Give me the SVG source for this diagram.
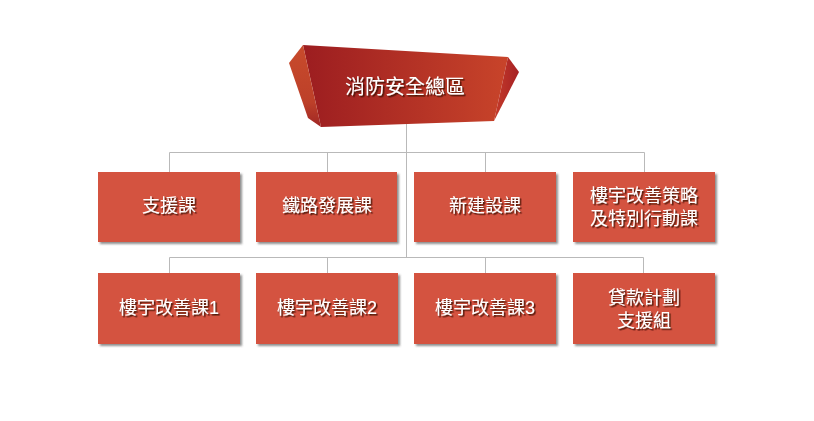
<svg xmlns="http://www.w3.org/2000/svg" width="814" height="421" viewBox="0 0 814 421">
<defs>
<linearGradient id="gMain" x1="0" y1="0" x2="1" y2="0">
<stop offset="0" stop-color="#9c1d20"/>
<stop offset="1" stop-color="#c8442a"/>
</linearGradient>
<linearGradient id="gLeft" x1="0" y1="0" x2="0" y2="1">
<stop offset="0" stop-color="#c84b2c"/>
<stop offset="0.7" stop-color="#bd4029"/>
<stop offset="1" stop-color="#a02624"/>
</linearGradient>
<linearGradient id="gRight" x1="0" y1="0" x2="1" y2="0">
<stop offset="0" stop-color="#c53b2a"/>
<stop offset="1" stop-color="#a62124"/>
</linearGradient>
<filter id="boxShadow" x="-10%" y="-10%" width="125%" height="130%">
<feDropShadow dx="2" dy="2" stdDeviation="1.2" flood-color="#444" flood-opacity="0.6"/>
</filter>
<filter id="txtShadow" x="-10%" y="-20%" width="125%" height="150%">
<feDropShadow dx="1.5" dy="1.5" stdDeviation="0.4" flood-color="#3a0a06" flood-opacity="0.9"/>
</filter>
</defs>
<style>
.box{fill:#d4533f;filter:url(#boxShadow);}
.lbl{fill:#ffffff;font-family:"Liberation Sans","Noto Sans CJK TC",sans-serif;font-size:18px;text-anchor:middle;dominant-baseline:central;filter:url(#txtShadow);}
.top{font-size:20px;}
.conn{stroke:#b9b9b9;stroke-width:1;fill:none;}
</style>
<rect width="814" height="421" fill="#ffffff"/>
<g id="connectors">
<path class="conn" d="M406.5 124V257.5M169.5 152.5H644.5M169.5 152.5V172M327.5 152.5V172M485.5 152.5V172M644.5 152.5V172M169.5 257.5H643.5M169.5 257.5V273M327.5 257.5V273M485.5 257.5V273M643.5 257.5V273"/>
</g>
<g id="root">
<polygon points="303,45 508,57 494,121 321,127" fill="url(#gMain)"/>
<polygon points="303,45 289,63 308,118 321,127" fill="url(#gLeft)"/>
<polygon points="508,57 519,72 494,121" fill="url(#gRight)"/>
<text class="lbl top" x="405" y="87">消防安全總區</text>
</g>
<g id="n1"><rect class="box" x="98" y="172" width="142" height="70"/><text class="lbl" x="169" y="206">支援課</text></g>
<g id="n2"><rect class="box" x="256" y="172" width="141" height="70"/><text class="lbl" x="327" y="206">鐵路發展課</text></g>
<g id="n3"><rect class="box" x="414" y="172" width="142" height="70"/><text class="lbl" x="485" y="206">新建設課</text></g>
<g id="n4"><rect class="box" x="573" y="172" width="142" height="70"/><text class="lbl" x="644" y="196">樓宇改善策略</text><text class="lbl" x="644" y="219">及特別行動課</text></g>
<g id="n5"><rect class="box" x="98" y="273" width="142" height="71"/><text class="lbl" x="169" y="308">樓宇改善課1</text></g>
<g id="n6"><rect class="box" x="256" y="273" width="142" height="71"/><text class="lbl" x="327" y="308">樓宇改善課2</text></g>
<g id="n7"><rect class="box" x="414" y="273" width="142" height="71"/><text class="lbl" x="485" y="308">樓宇改善課3</text></g>
<g id="n8"><rect class="box" x="573" y="273" width="142" height="71"/><text class="lbl" x="644" y="298">貸款計劃</text><text class="lbl" x="644" y="321">支援組</text></g>
</svg>
